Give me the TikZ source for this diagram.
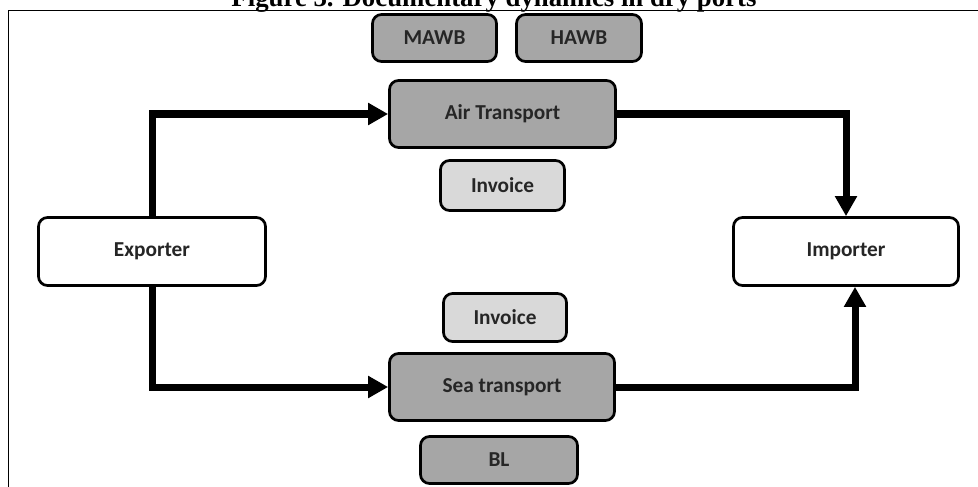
\documentclass[tikz,border=0pt]{standalone}
\usepackage{fontspec}
\setmainfont{Carlito}
\newfontfamily\titlefont{Liberation Serif}
\usepackage{tikz}
\usetikzlibrary{arrows.meta}

\begin{document}
\begin{tikzpicture}[x=1pt, y=-1pt,
            box/.style={draw=black, line width=2.7pt, rounded corners=9pt, inner sep=0pt,
                text=black!85, font=\fontsize{21.3}{25}\selectfont\bfseries},
            docbox/.style={box, fill=black!35},
            invbox/.style={box, fill=black!15},
            partybox/.style={box, fill=white},
            flow/.style={line width=7pt, -{Triangle[width=21pt,length=20pt]}}]
            \useasboundingbox (0,0) rectangle (978,487);

            \node[anchor=base, font=\titlefont\bfseries\fontsize{26.8}{30}\selectfont] (title) at (494,7) {Figure 3. Documentary dynamics in dry ports};
            \draw[line width=1.2pt] (978,10.5) -- (8.7,10.5) -- (8.7,487);

            \node[docbox, minimum width=124pt, minimum height=47pt] (mawb) at (434.5,38) {MAWB};
            \node[docbox, minimum width=125pt, minimum height=47pt] (hawb) at (579,38) {HAWB};
            \node[docbox, minimum width=226pt, minimum height=67pt] (air) at (502.5,114) {Air Transport};
            \node[invbox, minimum width=124pt, minimum height=50pt] (invair) at (502.5,185.5) {Invoice};

            \node[partybox, minimum width=227pt, minimum height=68pt] (exp) at (152,251.5) {Exporter};
            \node[partybox, minimum width=225pt, minimum height=68pt] (imp) at (846,251.5) {Importer};

            \node[invbox, minimum width=123pt, minimum height=48pt] (invsea) at (505,317.5) {Invoice};
            \node[docbox, minimum width=225pt, minimum height=67pt] (sea) at (502,387) {Sea transport};
            \node[docbox, minimum width=157pt, minimum height=47pt] (bl) at (499,460) {BL};

            \draw[flow] (exp.north) |- (air.west);
            \draw[flow] (air.east) -| (imp.north);
            \draw[flow] (exp.south) |- (sea.west);
            \draw[flow] (sea.east) -| ([xshift=9pt]imp.south);
        \end{tikzpicture}
\end{document}
